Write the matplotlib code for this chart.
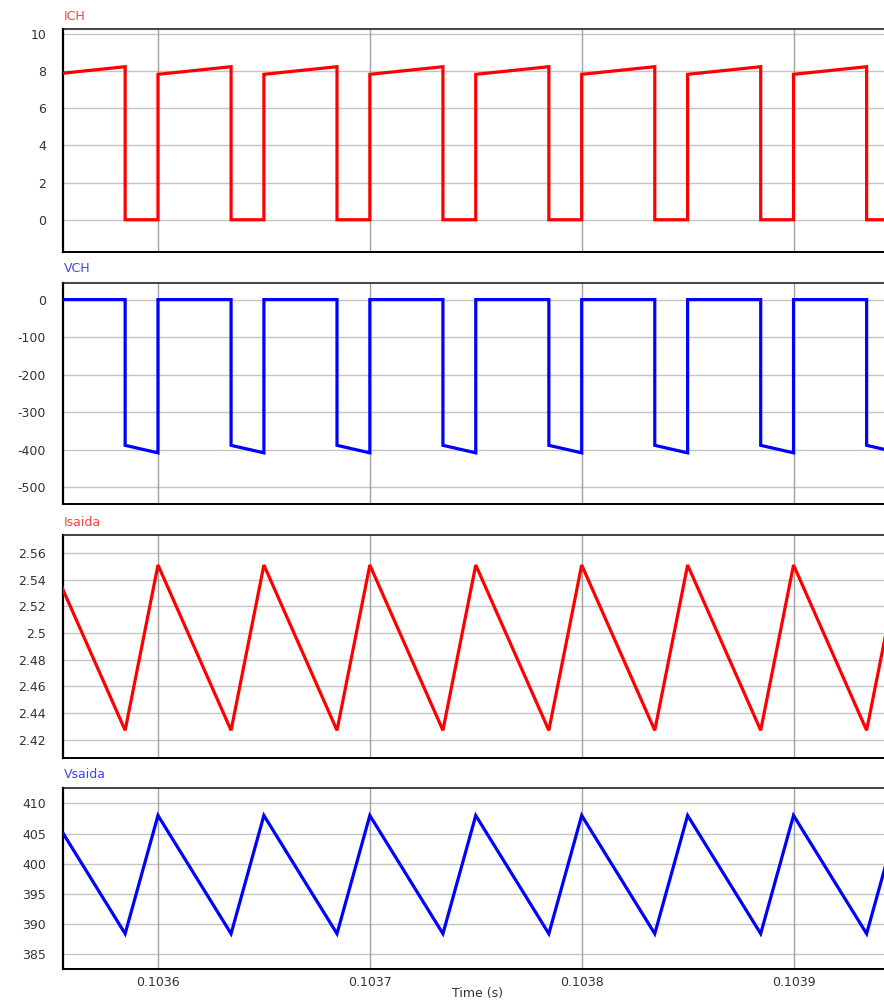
import matplotlib
matplotlib.use("Agg")
import matplotlib.pyplot as plt
from matplotlib.ticker import FormatStrFormatter, FuncFormatter

plt.rcParams['font.family'] = ['DejaVu Sans']

# switching instants (s), 20 kHz
t_rise = [0.10355, 0.10360, 0.10365, 0.10370, 0.10375, 0.10380,
          0.10385, 0.10390, 0.10395]
t_fall = [0.1035845, 0.1036345, 0.1036845, 0.1037345, 0.1037845,
          0.1038345, 0.1038845, 0.1039345]

# levels
ich_on = [7.83, 8.24]          # start / end of conduction
ich_off = 0.0
vch_on = 0.0
vch_off = [-388.0, -408.0]     # start / end of off interval
isaida_pk = 2.551
isaida_min = 2.427
vsaida_pk = 408.0
vsaida_min = 388.4

names = ['ICH', 'VCH', 'Isaida', 'Vsaida']
colors = ['#ff0000', '#0000ff', '#ff0000', '#0000ff']
title_colors = ['#ff4040', '#4040ff', '#ff4040', '#4040ff']
ylims = [(-1.72, 10.27), (-545, 45), (2.4065, 2.5735), (382.5, 412.5)]
yticks = [[0, 2, 4, 6, 8, 10],
          [-500, -400, -300, -200, -100, 0],
          [2.42, 2.44, 2.46, 2.48, 2.5, 2.52, 2.54, 2.56],
          [385, 390, 395, 400, 405, 410]]
xticks = [0.1036, 0.1037, 0.1038, 0.1039]
xlim = (0.1035554, 0.1039427)


def square(on_pair, off_val):
    t, y = [], []
    for i in range(len(t_fall)):
        t += [t_rise[i], t_rise[i], t_fall[i], t_fall[i]]
        y += [off_val, on_pair[0], on_pair[1], off_val]
    t.append(t_rise[-1]); y.append(off_val)
    return t, y


def square_off(on_val, off_pair):
    t, y = [], []
    for i in range(len(t_fall)):
        t += [t_rise[i], t_fall[i], t_fall[i], t_rise[i + 1]]
        y += [on_val, on_val, off_pair[0], off_pair[1]]
    t.append(t_rise[-1]); y.append(on_val)
    return t, y


def tri(pk, mn):
    t, y = [], []
    for i in range(len(t_fall)):
        t += [t_rise[i], t_fall[i]]
        y += [pk, mn]
    t.append(t_rise[-1]); y.append(pk)
    return t, y


series = [square(ich_on, ich_off),
          square_off(vch_on, vch_off),
          tri(isaida_pk, isaida_min),
          tri(vsaida_pk, vsaida_min)]

W, H = 884, 1001
fig = plt.figure(figsize=(W / 100, H / 100), dpi=100)
panels = [(29, 251.7), (282.7, 504.3), (535, 757.7), (788.3, 969.3)]
title_y = [16, 269, 522, 775]
left_px = 63.5
fs = 9.0
lab_col = '#333333'

axes = []
for k, (top, bot) in enumerate(panels):
    ax = fig.add_axes([left_px / W, 1 - bot / H, 1 - left_px / W, (bot - top) / H])
    axes.append(ax)
    t, y = series[k]
    ax.plot(t, y, color=colors[k], lw=2.3, solid_joinstyle='miter', zorder=3)
    ax.set_xlim(*xlim)
    ax.set_ylim(*ylims[k])
    ax.set_yticks(yticks[k])
    ax.set_xticks(xticks)
    ax.yaxis.set_major_formatter(FuncFormatter(lambda v, p: '%g' % round(v, 4)))
    for v in yticks[k]:
        ax.axhline(v, color='#c4c4c4', lw=1.0, zorder=1)
    for v in xticks:
        ax.axvline(v, color='#a0a0a0', lw=1.0, zorder=1)
    ax.tick_params(axis='both', length=0, labelsize=fs, labelcolor=lab_col)
    ax.tick_params(axis='y', pad=12.5)
    ax.tick_params(axis='x', pad=5.0)
    ax.spines['right'].set_visible(False)
    ax.spines['left'].set_linewidth(1.6)
    ax.spines['bottom'].set_linewidth(1.4)
    ax.spines['top'].set_linewidth(1.2)
    ax.spines['top'].set_color('#222222')
    if k < 3:
        ax.set_xticklabels([])
    else:
        ax.xaxis.set_major_formatter(FormatStrFormatter('%.4f'))
    fig.text(64 / W, 1 - title_y[k] / H, names[k], color=title_colors[k],
             fontsize=fs, ha='left', va='center')

fig.text(478 / W, 1 - 993 / H, 'Time (s)', color=lab_col, fontsize=fs,
         ha='center', va='center')

fig.savefig('out.png', dpi=100)
